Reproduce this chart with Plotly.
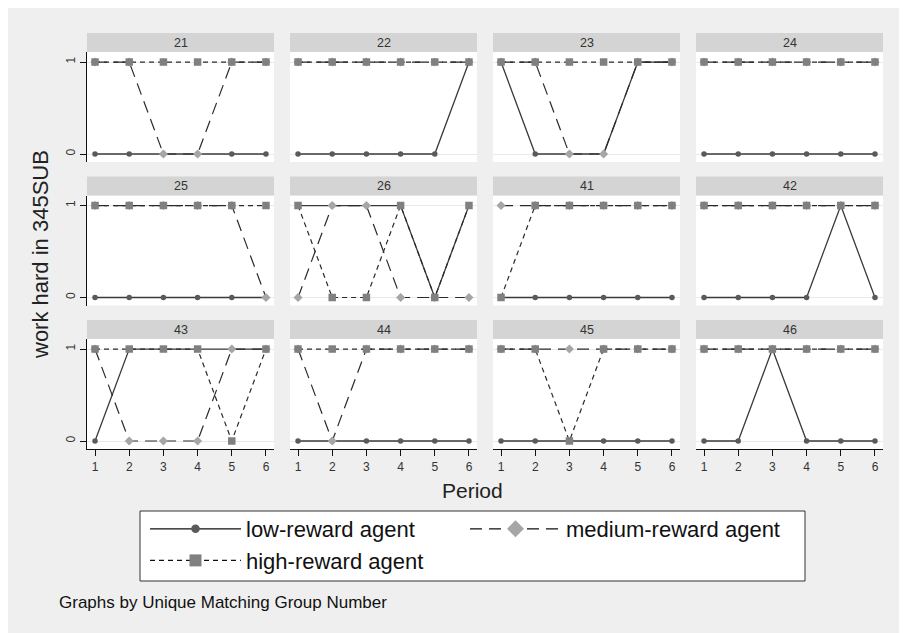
import plotly.graph_objects as go

# ---------------- data ----------------
periods = [1, 2, 3, 4, 5, 6]
group_ids = ["21", "22", "23", "24", "25", "26", "41", "42", "43", "44", "45", "46"]
low_reward = [
    [0, 0, 0, 0, 0, 0],
    [0, 0, 0, 0, 0, 1],
    [1, 0, 0, 0, 1, 1],
    [0, 0, 0, 0, 0, 0],
    [0, 0, 0, 0, 0, 0],
    [1, 1, 1, 1, 0, 1],
    [0, 0, 0, 0, 0, 0],
    [0, 0, 0, 0, 1, 0],
    [0, 1, 1, 1, 1, 1],
    [0, 0, 0, 0, 0, 0],
    [0, 0, 0, 0, 0, 0],
    [0, 0, 1, 0, 0, 0],
]
medium_reward = [
    [1, 1, 0, 0, 1, 1],
    [1, 1, 1, 1, 1, 1],
    [1, 1, 0, 0, 1, 1],
    [1, 1, 1, 1, 1, 1],
    [1, 1, 1, 1, 1, 0],
    [0, 1, 1, 0, 0, 0],
    [1, 1, 1, 1, 1, 1],
    [1, 1, 1, 1, 1, 1],
    [1, 0, 0, 0, 1, 1],
    [1, 0, 1, 1, 1, 1],
    [1, 1, 1, 1, 1, 1],
    [1, 1, 1, 1, 1, 1],
]
high_reward = [
    [1, 1, 1, 1, 1, 1],
    [1, 1, 1, 1, 1, 1],
    [1, 1, 1, 1, 1, 1],
    [1, 1, 1, 1, 1, 1],
    [1, 1, 1, 1, 1, 1],
    [1, 0, 0, 1, 0, 1],
    [0, 1, 1, 1, 1, 1],
    [1, 1, 1, 1, 1, 1],
    [1, 1, 1, 1, 0, 1],
    [1, 1, 1, 1, 1, 1],
    [1, 1, 0, 1, 1, 1],
    [1, 1, 1, 1, 1, 1],
]
series_names = ["low-reward agent", "medium-reward agent", "high-reward agent"]
y_ticks = [0, 1]

# ---------------- layout helpers ----------------
# page body has an 8px margin; figure sized to fill the rest of the 907x633 window
OFF = 8
W, H = 907 - OFF, 633 - OFF


def px(x):
    return (x - OFF) / W


def py(y):
    return 1 - (y - OFF) / H


FONT = "Arial, Liberation Sans, sans-serif"
NCOL, NROW = 4, 3
COL_X0, COL_W, COL_STEP = 87, 187, 203
ROW_Y0, ROW_H, ROW_STEP = 52, 110, 143.5
STRIP_H = 19

styles = [
    dict(line=dict(color="#3a3a3a", width=1.3, dash="solid"),
         marker=dict(symbol="circle", size=5.5, color="#5a5a5a")),
    dict(line=dict(color="#2a2a2a", width=1.2, dash="12px,7px"),
         marker=dict(symbol="diamond", size=7, color="#a6a6a6")),
    dict(line=dict(color="#2a2a2a", width=1.2, dash="5px,4px"),
         marker=dict(symbol="square", size=7.5, color="#808080")),
]
legend_marker_sizes = [8.5, 13, 12]

fig = go.Figure()
shapes = []
annotations = []
layout_axes = {}

for k, gid in enumerate(group_ids):
    r, c = divmod(k, NCOL)
    idx = "" if k == 0 else str(k + 1)
    x0 = COL_X0 + c * COL_STEP
    x1 = x0 + COL_W
    top = ROW_Y0 + r * ROW_STEP
    bot = top + ROW_H
    bottom_row = (r == NROW - 1)
    left_col = (c == 0)

    layout_axes["xaxis" + idx] = dict(
        domain=[px(x0), px(x1)], anchor="y" + idx,
        range=[0.765, 6.235], tickvals=periods, showgrid=False, zeroline=False,
        showline=bottom_row, linecolor="#111", linewidth=1.2,
        ticks="outside" if bottom_row else "", ticklen=6, tickcolor="#111",
        showticklabels=bottom_row, tickfont=dict(family=FONT, size=12, color="#333"),
        fixedrange=True,
    )
    layout_axes["yaxis" + idx] = dict(
        domain=[py(bot), py(top)], anchor="x" + idx,
        range=[-0.087, 1.109], tickvals=y_ticks, showgrid=True, gridcolor="#e9e9e9",
        gridwidth=1, zeroline=False,
        showline=left_col, linecolor="#111", linewidth=1.2,
        ticks="outside" if left_col else "", ticklen=6, tickcolor="#111",
        showticklabels=left_col, tickangle=-90,
        tickfont=dict(family=FONT, size=12, color="#333"),
        fixedrange=True,
    )

    # strip header
    shapes.append(dict(type="rect", xref="paper", yref="paper",
                       x0=px(x0), x1=px(x1), y0=py(top), y1=py(top - STRIP_H),
                       fillcolor="#d4d4d4", line=dict(width=0), layer="below"))
    annotations.append(dict(text=gid, xref="paper", yref="paper",
                            x=px((x0 + x1) / 2), y=py(top - STRIP_H / 2),
                            showarrow=False, xanchor="center", yanchor="middle",
                            font=dict(family=FONT, size=12.5, color="#333")))

    for s, values in enumerate([low_reward[k], medium_reward[k], high_reward[k]]):
        fig.add_trace(go.Scatter(
            x=periods, y=values, mode="lines+markers",
            xaxis="x" + idx, yaxis="y" + idx,
            line=styles[s]["line"], marker=styles[s]["marker"],
            name=series_names[s], showlegend=False, hoverinfo="skip",
        ))

# legend entries (no data, legend only)
for s, name in enumerate(series_names):
    mk = dict(styles[s]["marker"])
    mk["size"] = legend_marker_sizes[s]
    fig.add_trace(go.Scatter(
        x=[None], y=[None], mode="lines+markers", name=name,
        line=dict(styles[s]["line"], width=1.3, color="#111"), marker=mk,
        showlegend=True, hoverinfo="skip",
    ))

# legend box
shapes.append(dict(type="rect", xref="paper", yref="paper",
                   x0=px(140), x1=px(805), y0=py(581), y1=py(511),
                   fillcolor="white", line=dict(color="#333", width=1)))

annotations += [
    dict(text="work hard in 345SUB", xref="paper", yref="paper", x=px(40), y=py(255),
         textangle=-90, showarrow=False, xanchor="center", yanchor="middle",
         font=dict(family=FONT, size=22, color="#222")),
    dict(text="Period", xref="paper", yref="paper", x=px(472), y=py(490),
         showarrow=False, xanchor="center", yanchor="middle",
         font=dict(family=FONT, size=21, color="#222")),
    dict(text="Graphs by Unique Matching Group Number", xref="paper", yref="paper",
         x=px(57), y=py(602), showarrow=False, xanchor="left", yanchor="middle",
         font=dict(family=FONT, size=17, color="#111")),
]

fig.update_layout(
    width=W, height=H, margin=dict(l=0, r=0, t=0, b=0),
    paper_bgcolor="#efefef", plot_bgcolor="white",
    showlegend=True,
    legend=dict(orientation="h", x=px(145), xanchor="left", y=py(508), yanchor="top",
                bgcolor="rgba(0,0,0,0)", borderwidth=0, itemwidth=91, entrywidth=214,
                font=dict(family=FONT, size=22, color="#111"), traceorder="normal",
                itemclick=False, itemdoubleclick=False),
    shapes=shapes, annotations=annotations,
    **layout_axes,
)

fig.write_html("out.html", config={"displayModeBar": False})
